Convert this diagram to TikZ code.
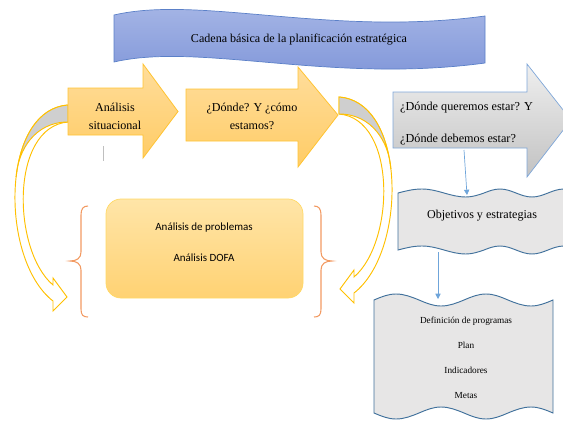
\documentclass[tikz,border=0pt]{standalone}
\usepackage{fontspec}
\setmainfont{Liberation Serif}
\newfontfamily\calibri{Carlito}
\usetikzlibrary{arrows.meta}

\definecolor{goldtop}{HTML}{FFDD9B}
\definecolor{goldbot}{HTML}{FFCC66}
\definecolor{goldedge}{HTML}{FFC433}
\definecolor{softtop}{HTML}{FFE5A8}
\definecolor{softbot}{HTML}{FFD273}
\definecolor{softedge}{HTML}{FFD966}
\definecolor{bannertop}{HTML}{AAB9E7}
\definecolor{bannerbot}{HTML}{7D94D8}
\definecolor{banneredge}{HTML}{5B80C8}
\definecolor{greytop}{HTML}{EFEFEF}
\definecolor{greybot}{HTML}{C2C2C2}
\definecolor{greyedge}{HTML}{7FA7D9}
\definecolor{bentedge}{HTML}{FFC000}
\definecolor{bentgrey}{HTML}{CFCFCF}
\definecolor{wavefill}{HTML}{E7E6E6}
\definecolor{waveedge}{HTML}{41719C}
\definecolor{braceorange}{HTML}{F29A62}
\definecolor{linkblue}{HTML}{6FA5DA}

\begin{document}
\begin{tikzpicture}[x=0.03cm,y=-0.03cm,
  goldarrow/.style={draw=goldedge,line width=0.7pt,top color=goldtop,bottom color=goldbot},
  greyarrow/.style={draw=greyedge,line width=0.6pt,top color=greytop,bottom color=greybot},
  bentfront/.style={draw=bentedge,line width=0.8pt,fill=white},
  bentback/.style={draw=bentedge,line width=0.8pt,fill=bentgrey},
  softbox/.style={draw=softedge,line width=0.6pt,top color=softtop,bottom color=softbot,rounded corners=0.45cm},
  wavebox/.style={draw=waveedge,line width=0.8pt,fill=wavefill},
  curly/.style={draw=braceorange,line width=0.9pt},
  bluelink/.style={draw=linkblue,line width=0.6pt,-{Triangle[width=4.5pt,length=4.5pt]}},
  txt/.style={inner sep=0pt,align=center}]

\newcommand{\fatarrow}[8][goldarrow] % [style][x0][xh][xt][yt][yb][ht][hb]
{
 \draw[#1] (#2,#5) -- (#3,#5) -- (#3,#7) -- (#4,{(#5+#6)/2})
   -- (#3,#8) -- (#3,#6) -- (#2,#6) -- cycle;
}
\newcommand{\bentarrow}
{
 \draw[bentfront] (68,122) .. controls (10,127) and (12,250) .. (53,285)
   -- (53,278) -- (67,297) -- (53,311) -- (53,301)
   .. controls (0,260) and (0,110) .. (68,105) -- cycle;
 \draw[bentback] (68,105) .. controls (37.4,107.3) and (20.6,138.6) .. (16.1,176.9)
   .. controls (18,150) and (35,122) .. (68,122) -- cycle;
}
\newcommand{\curlybrace}
{
 \draw[curly] (88,206) .. controls (83,206) and (81,209) .. (81,215) -- (81,252)
   .. controls (81,258) and (77,261) .. (70,261) .. controls (77,261) and (81,264) .. (81,270)
   -- (81,309) .. controls (81,315) and (83,317) .. (88,317);
}

\useasboundingbox (0,0) rectangle (563,422);
\clip (0,0) rectangle (563,422);

\bentarrow
\begin{scope}[shift={(407,-8)},xscale=-1]
 \bentarrow
\end{scope}

\fatarrow{68}{143}{178}{88}{135}{64}{158}
\fatarrow{186}{298}{338}{89}{141}{67}{167}
\fatarrow[greyarrow]{393}{527}{571}{92}{148}{64}{177}

\draw[draw=banneredge,line width=0.6pt,top color=bannertop,bottom color=bannerbot]
  (114,15) .. controls (200,-5) and (330,37) .. (485,16) -- (485,63)
  .. controls (330,84) and (200,42) .. (114,62) -- cycle;
\node[txt,font=\fontsize{10.3}{12}\selectfont] (cadena) at (299,40) {Cadena básica de la planificación estratégica};

\node[txt,font=\fontsize{10.3}{15.4}\selectfont] (situacional) at (115,116) {Análisis\\situacional};
\node[txt,font=\fontsize{10.3}{15.4}\selectfont] (estamos) at (252,116) {¿Dónde? Y ¿cómo\\estamos?};
\node[txt,align=left,anchor=west,font=\fontsize{10.4}{27.3}\selectfont] (deseo) at (400,124)
  {¿Dónde queremos estar? Y\\¿Dónde debemos estar?};

\draw[draw=black!25,line width=0.5pt] (103,146) -- (103,161);

\curlybrace
\begin{scope}[shift={(402,0)},xscale=-1]
 \curlybrace
\end{scope}

\draw[softbox] (106,199) rectangle (303,298);
\node[txt,font=\calibri\fontsize{9.4}{26.5}\selectfont] (problemas) at (204,242)
  {Análisis de problemas\\Análisis DOFA};

\draw[wavebox] (398,193) sin (422,189) cos (444,193) sin (466,197) cos (484,193)
  sin (500,189) cos (516,193) sin (532,197) cos (548,193) sin (564,189) cos (580,193)
  -- (580,250) sin (564,246) cos (548,250) sin (532,254) cos (516,250) sin (500,246)
  cos (484,250) sin (466,254) cos (444,250) sin (422,246) cos (398,250) -- cycle;
\node[txt,font=\fontsize{10.3}{12}\selectfont] (objetivos) at (482,216) {Objetivos y estrategias};

\draw[wavebox] (374,300) sin (396,294) cos (419,300) sin (441,306) cos (464,300)
  sin (486,294) cos (508,300) sin (531,306) cos (553,300) -- (553,413)
  sin (531,407) cos (508,413) sin (486,419) cos (464,413) sin (441,407)
  cos (419,413) sin (396,419) cos (374,413) -- cycle;
\node[txt,font=\fontsize{7.9}{21.3}\selectfont] (programas) at (466,358)
  {Definición de programas\\Plan\\Indicadores\\Metas};

\coordinate (deseo-b) at (464,150);
\coordinate (objetivos-t) at (467,195);
\coordinate (objetivos-b) at (438,252);
\coordinate (programas-t) at (438,299);
\draw[bluelink] (deseo-b) -- (objetivos-t);
\draw[bluelink] (objetivos-b) -- (programas-t);

\end{tikzpicture}
\end{document}
